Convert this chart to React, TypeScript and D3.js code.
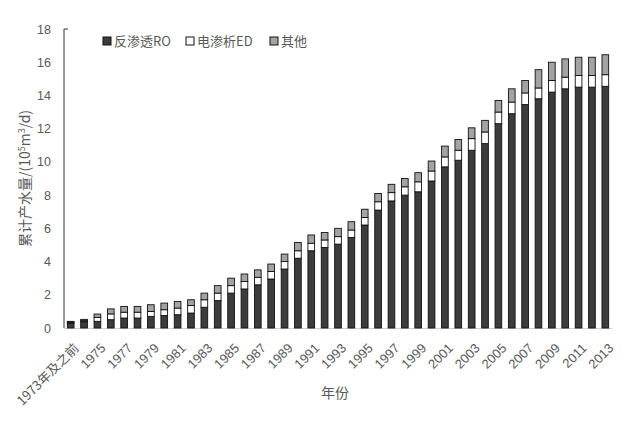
import React from "react";
import * as d3 from "d3";

const categories: string[] = [
  "1973年及之前", "1974", "1975", "1976", "1977", "1978", "1979", "1980", "1981", "1982",
  "1983", "1984", "1985", "1986", "1987", "1988", "1989", "1990", "1991", "1992",
  "1993", "1994", "1995", "1996", "1997", "1998", "1999", "2000", "2001", "2002",
  "2003", "2004", "2005", "2006", "2007", "2008", "2009", "2010", "2011", "2012", "2013",
];

const roValues: number[] = [
  0.3, 0.38, 0.4, 0.5, 0.6, 0.6, 0.7, 0.75, 0.8, 0.9,
  1.25, 1.65, 2.1, 2.35, 2.6, 2.95, 3.55, 4.2, 4.65, 4.85,
  5.05, 5.45, 6.2, 7.1, 7.65, 8.0, 8.2, 8.85, 9.7, 10.1,
  10.7, 11.1, 12.3, 12.9, 13.45, 13.8, 14.2, 14.4, 14.5, 14.5, 14.55,
];

const edValues: number[] = [
  0.04, 0.06, 0.24, 0.35, 0.35, 0.35, 0.3, 0.35, 0.4, 0.45,
  0.45, 0.45, 0.45, 0.45, 0.45, 0.45, 0.45, 0.45, 0.45, 0.45,
  0.45, 0.45, 0.45, 0.5, 0.5, 0.5, 0.6, 0.6, 0.6, 0.6,
  0.7, 0.7, 0.7, 0.7, 0.7, 0.65, 0.7, 0.7, 0.7, 0.7, 0.7,
];

const otherValues: number[] = [
  0.06, 0.08, 0.2, 0.3, 0.35, 0.35, 0.4, 0.4, 0.4, 0.35,
  0.4, 0.45, 0.45, 0.45, 0.45, 0.45, 0.45, 0.5, 0.5, 0.45,
  0.5, 0.5, 0.5, 0.5, 0.5, 0.5, 0.55, 0.6, 0.65, 0.65,
  0.65, 0.7, 0.7, 0.8, 0.75, 1.1, 1.1, 1.1, 1.1, 1.1, 1.2,
];

const seriesNames: string[] = ["反渗透RO", "电渗析ED", "其他"];
const seriesColors: string[] = ["#3c3c3c", "#ffffff", "#a3a3a3"];
const yTicks: number[] = [0, 2, 4, 6, 8, 10, 12, 14, 16, 18];

const W = 640;
const H = 425;
const plotLeft = 64;
const plotRight = 612;
const plotTop = 29;
const plotBottom = 328;

export default function App() {
  const x = d3
    .scaleBand<string>()
    .domain(categories)
    .range([plotLeft, plotRight])
    .paddingInner(0.5)
    .paddingOuter(0.25);
  const y = d3.scaleLinear().domain([0, 18]).range([plotBottom, plotTop]);

  const rows = categories.map((c, i) => ({
    cat: c,
    ro: roValues[i],
    ed: edValues[i],
    other: otherValues[i],
  }));
  const stack = d3.stack<any>().keys(["ro", "ed", "other"]);
  const stacked = stack(rows);

  const numFont = "'Liberation Sans', 'Noto Sans', sans-serif";
  const cjkFont = "'Noto Sans CJK SC', 'Noto Sans', sans-serif";
  const textColor = "#595959";

  const legendX = [103, 186, 270];

  return (
    <svg
      width={W}
      height={H}
      style={{ position: "absolute", left: 0, top: 0, background: "#fff" }}
    >
      {/* x axis line */}
      <line x1={plotLeft} x2={plotRight} y1={plotBottom + 0.5} y2={plotBottom + 0.5} stroke="#d0d0d0" strokeWidth={1.2} />

      {/* bars */}
      {stacked.map((s, si) => (
        <g key={si}>
          {s.map((d, i) => (
            <rect
              key={i}
              x={x(categories[i])!}
              width={x.bandwidth()}
              y={y(d[1])}
              height={Math.max(0, y(d[0]) - y(d[1]))}
              fill={seriesColors[si]}
              stroke="#111"
              strokeWidth={0.9}
            />
          ))}
        </g>
      ))}

      {/* y axis */}
      <line x1={plotLeft} x2={plotLeft} y1={plotTop} y2={plotBottom} stroke="#333" strokeWidth={1} />
      <line x1={plotLeft} x2={plotLeft + 4} y1={plotTop} y2={plotTop} stroke="#333" strokeWidth={1} />
      {yTicks.map((t) => (
        <text
          key={t}
          x={51}
          y={y(t) + 4.5}
          textAnchor="end"
          fontSize={12.5}
          fontFamily={numFont}
          fill={textColor}
        >
          {t}
        </text>
      ))}

      {/* x tick labels */}
      {categories.map((c, i) =>
        i % 2 === 0 ? (
          <text
            key={c}
            transform={`translate(${x(c)! + x.bandwidth() / 2 + 9},${plotBottom + 21}) rotate(-45)`}
            textAnchor="end"
            fontSize={13}
            fontFamily={i === 0 ? cjkFont : numFont}
            fill={textColor}
          >
            {c}
          </text>
        ) : null
      )}

      {/* axis titles */}
      <text x={335} y={398} textAnchor="middle" fontSize={14} fontFamily={cjkFont} fill={textColor}>
        年份
      </text>
      <text
        transform={`translate(30,${(plotTop + plotBottom) / 2}) rotate(-90)`}
        textAnchor="middle"
        fontSize={14}
        fontFamily={cjkFont}
        fill={textColor}
      >
        累计产水量/(10
        <tspan dy={-5} fontSize={9}>5</tspan>
        <tspan dy={5}>m</tspan>
        <tspan dy={-5} fontSize={9}>3</tspan>
        <tspan dy={5}>/d)</tspan>
      </text>

      {/* legend */}
      {seriesNames.map((n, i) => (
        <g key={n}>
          <rect x={legendX[i]} y={37} width={8} height={8} fill={seriesColors[i]} stroke="#111" strokeWidth={1} />
          <text x={legendX[i] + 11} y={46} fontSize={13} fontFamily={cjkFont} fill={textColor}>
            {n}
          </text>
        </g>
      ))}
    </svg>
  );
}
